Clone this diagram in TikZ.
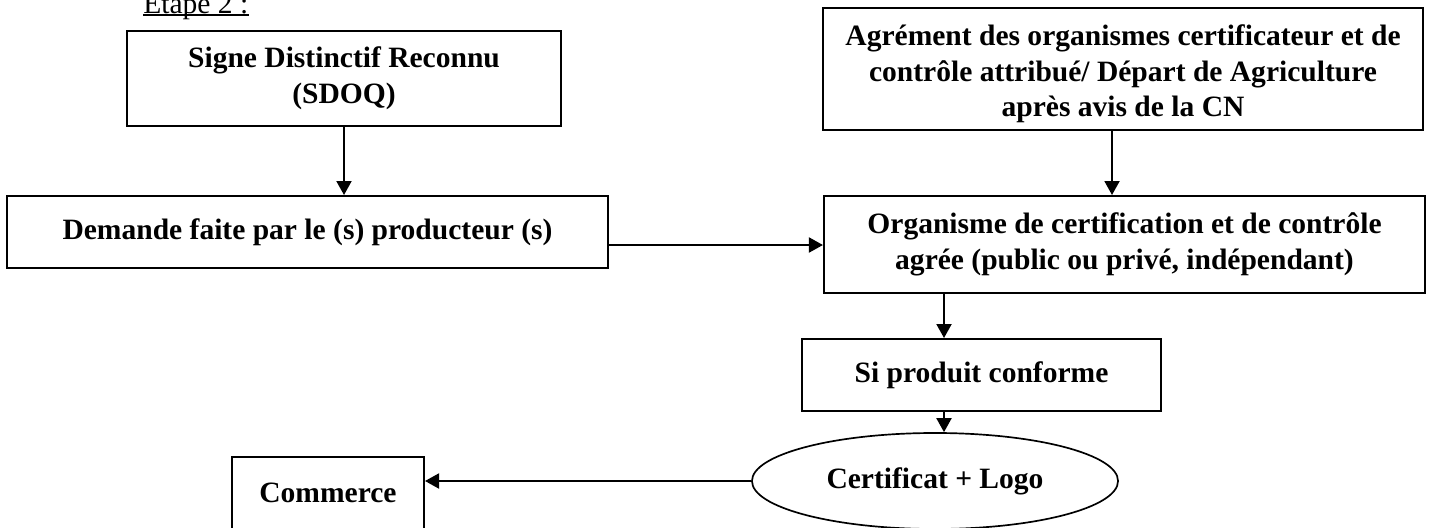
\documentclass[tikz,border=0pt]{standalone}
\usepackage{fontspec}
\setmainfont{Liberation Serif}
\usetikzlibrary{arrows.meta,shapes.geometric}
\begin{document}
\begin{tikzpicture}[x=0.025cm,y=-0.025cm]
        \tikzstyle{box_style} = [rectangle,draw=black,line width=1.4pt,align=center,inner sep=0pt,font=\bfseries\fontsize{21}{25.3}\selectfont]
        \tikzstyle{arrow_style} = [line width=1.4pt,-{Triangle[length=0.35cm,width=0.375cm]}]
        \useasboundingbox (0,0) rectangle (1432,527);
        \node[anchor=base west,inner sep=0pt,font=\fontsize{21}{25.3}\selectfont] (etape) at (143,13) {Étape 2 :};
        \draw[line width=1.2pt] ([yshift=-1.6pt]etape.base west) -- ([yshift=-1.6pt]etape.base east);
        \node[box_style,minimum width=10.85cm,minimum height=2.375cm] (signe) at (344,78.5) {Signe Distinctif Reconnu\\(SDOQ)};
        \node[box_style,minimum width=15cm,minimum height=3.05cm] (agrement) at (1123,69) {\rule{0pt}{22pt}Agrément des organismes certificateur et de\\contrôle attribué/ Départ de Agriculture\\après avis de la CN};
        \node[box_style,minimum width=15.025cm,minimum height=1.8cm] (demande) at (307.5,232) {Demande faite par le (s) producteur (s)};
        \node[box_style,minimum width=15.025cm,minimum height=2.425cm] (organisme) at (1124.5,244.5) {Organisme de certification et de contrôle\\agrée (public ou privé, indépendant)};
        \node[box_style,minimum width=8.975cm,minimum height=1.8cm] (conforme) at (981.5,375) {Si produit conforme};
        \node[box_style,ellipse,line width=1.2pt,minimum width=9.15cm,minimum height=2.4cm] (certificat) at (935,481) {Certificat + Logo};
        \node[box_style,minimum width=4.8cm,minimum height=1.8cm] (commerce) at (328,493) {Commerce};
        \coordinate (x_agr) at (1112,0);
        \coordinate (x_conf) at (944,0);
        \coordinate (y_dem) at (0,245);
        \draw[arrow_style] (signe.south) -- (signe.south |- demande.north);
        \draw[arrow_style] (agrement.south -| x_agr) -- (organisme.north -| x_agr);
        \draw[arrow_style] (demande.east |- y_dem) -- (organisme.west |- y_dem);
        \draw[arrow_style] (organisme.south -| x_conf) -- (conforme.north -| x_conf);
        \draw[arrow_style] (conforme.south -| x_conf) -- (certificat.north -| x_conf);
        \draw[arrow_style] (certificat.west) -- (certificat.west -| commerce.east);
\end{tikzpicture}
\end{document}
